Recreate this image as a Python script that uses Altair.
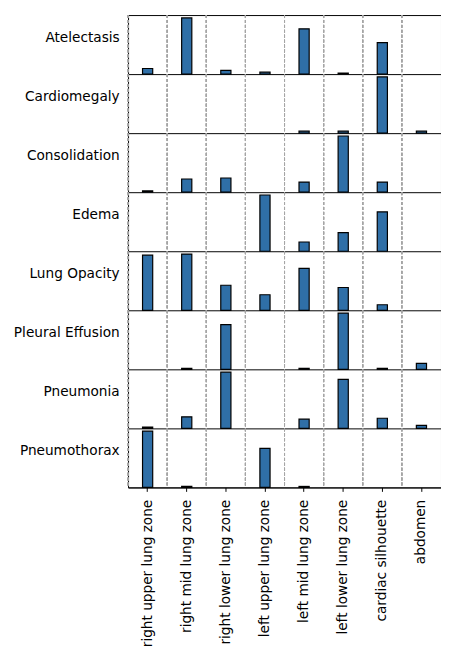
import altair as alt
import pandas as pd

zones = ["right upper lung zone", "right mid lung zone", "right lower lung zone",
         "left upper lung zone", "left mid lung zone", "left lower lung zone",
         "cardiac silhouette", "abdomen"]
diseases = ["Atelectasis", "Cardiomegaly", "Consolidation", "Edema",
            "Lung Opacity", "Pleural Effusion", "Pneumonia", "Pneumothorax"]

# relative frequency per disease (normalised to row maximum)
atelectasis = [0.10, 1.00, 0.065, 0.035, 0.806, 0.018, 0.56, 0.0]
cardiomegaly = [0.0, 0.0, 0.0, 0.0, 0.035, 0.035, 1.00, 0.035]
consolidation = [0.024, 0.235, 0.253, 0.0, 0.18, 1.00, 0.18, 0.0]
edema = [0.0, 0.0, 0.0, 1.00, 0.165, 0.33, 0.70, 0.0]
lung_opacity = [0.98, 1.00, 0.445, 0.277, 0.746, 0.405, 0.098, 0.0]
pleural_effusion = [0.0, 0.018, 0.794, 0.0, 0.018, 1.00, 0.018, 0.106]
pneumonia = [0.023, 0.205, 1.00, 0.0, 0.164, 0.87, 0.18, 0.053]
pneumothorax = [1.00, 0.018, 0.0, 0.694, 0.018, 0.0, 0.0, 0.0]

series = [atelectasis, cardiomegaly, consolidation, edema,
          lung_opacity, pleural_effusion, pneumonia, pneumothorax]

FONT = "DejaVu Sans"
FS = 13.9
ROW = 1.05  # each panel spans 0 .. 1.05 of its normalised scale
n = len(diseases)

rows = []
for i, (d, vals) in enumerate(zip(diseases, series)):
    base = (n - 1 - i) * ROW
    for z, v in zip(zones, vals):
        rows.append({"disease": d, "zone": z, "value": v,
                     "base": base, "top": base + v})
df = pd.DataFrame(rows)

xscale = alt.Scale(domain=zones, paddingInner=0, paddingOuter=0)
yscale = alt.Scale(domain=[0, n * ROW], nice=False, zero=True)

bottom_up = list(reversed(diseases))
label_expr = "[" + ",".join("'%s'" % d for d in bottom_up) + "][round(datum.value / %s)]" % ROW

xaxis = alt.Axis(orient="bottom", title=None, grid=False, labelAngle=-90,
                 labelFont=FONT, labelFontSize=FS, labelColor="black",
                 tickColor="black", tickSize=4, tickWidth=1,
                 labelPadding=8, domain=False, labelOverlap=False)

yaxis = alt.Axis(title=None, values=[k * ROW for k in range(n)],
                 labelExpr=label_expr, labelOffset=-37, labelPadding=9,
                 labelFont=FONT, labelFontSize=FS, labelColor="black",
                 labelBaseline="middle", labelOverlap=False, labelFlush=False,
                 ticks=False, domain=False,
                 grid=True, gridColor="black", gridWidth=1, gridOpacity=1)

base_chart = alt.Chart(df)

grid = base_chart.mark_rule(strokeDash=[3, 2], color="#a6a6a6", strokeWidth=0.8).encode(
    x=alt.X("zone:N", sort=zones, scale=xscale, bandPosition=0, axis=xaxis),
)

bars = base_chart.transform_filter("datum.value > 0").mark_bar(
    width=alt.RelativeBandSize(0.26), color="#2f6fa7",
    stroke="black", strokeWidth=1.2
).encode(
    x=alt.X("zone:N", sort=zones, scale=xscale, axis=xaxis),
    y=alt.Y("top:Q", scale=yscale, axis=yaxis),
    y2="base:Q",
)

chart = alt.layer(grid, bars).properties(
    width=318, height=n * 60,
    autosize=alt.AutoSizeParams(type="none"),
    padding={"left": 122, "top": 2, "right": 0, "bottom": 159},
    background="white",
).configure_view(
    stroke="black", strokeWidth=1
)

chart.save("out.html", embed_options={"renderer": "svg", "actions": False})
